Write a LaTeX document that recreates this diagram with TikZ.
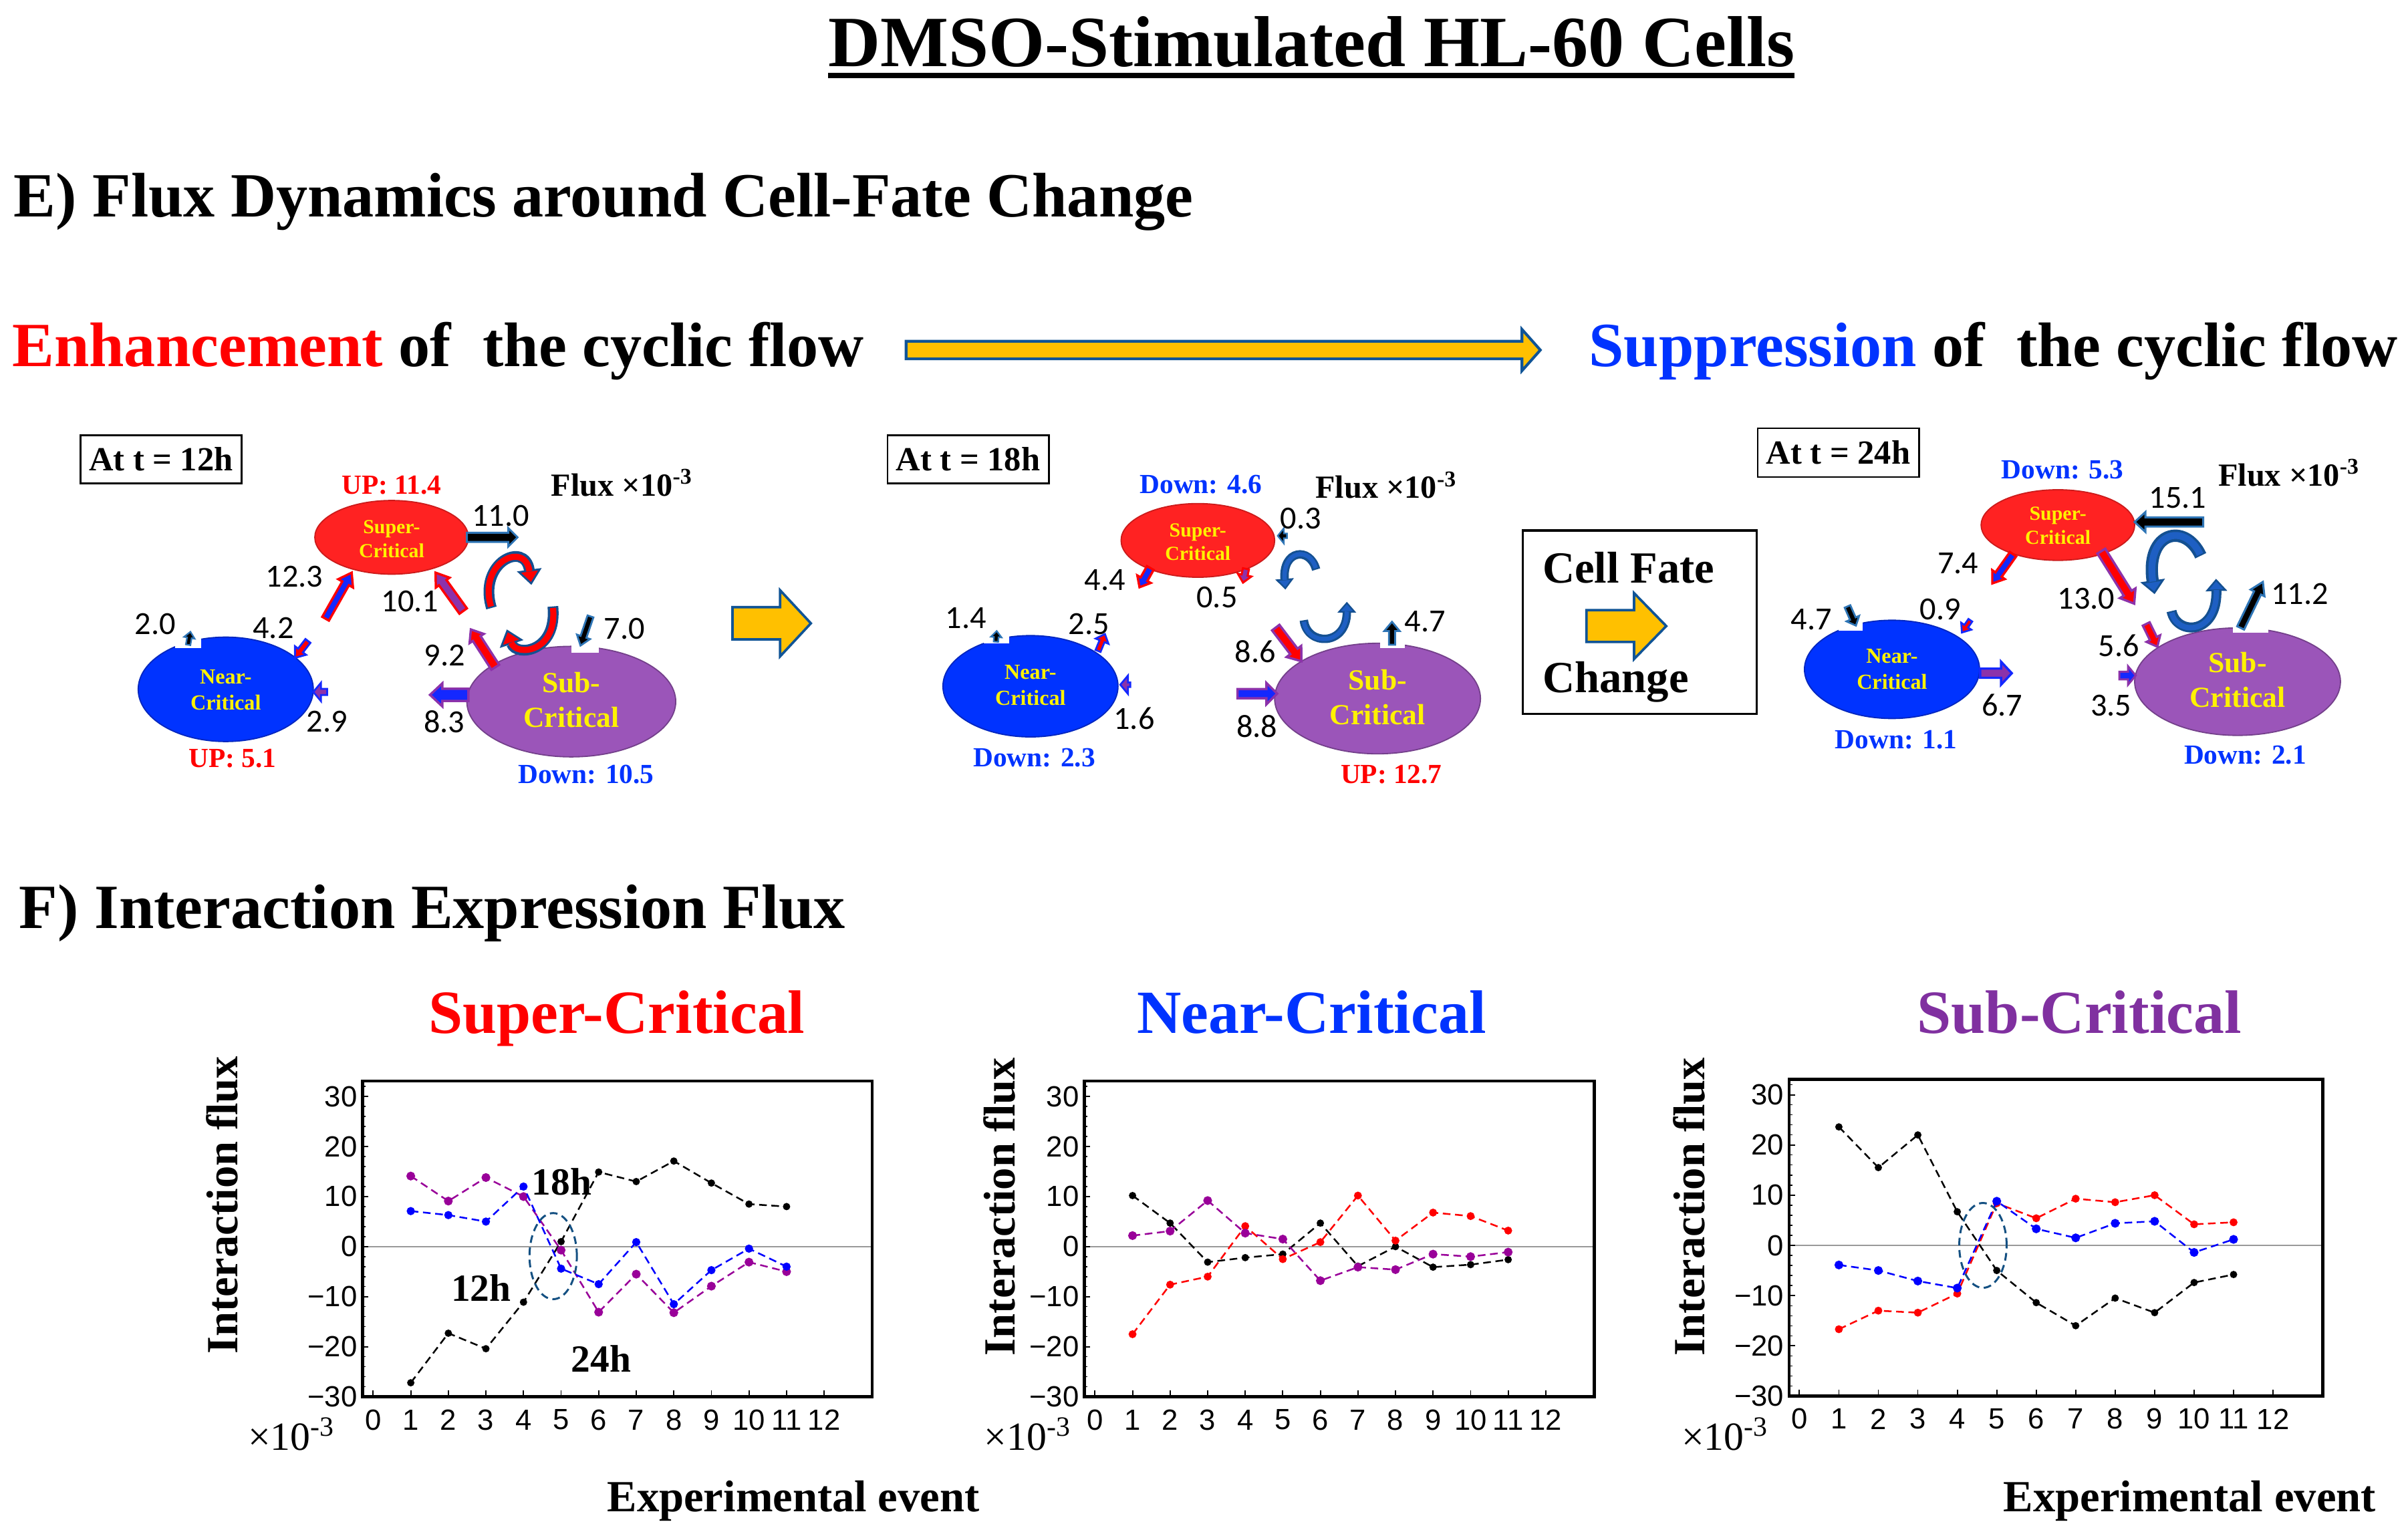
\documentclass[tikz,border=0pt]{standalone}
\usepackage{fontspec}
\setmainfont{Liberation Serif}
\newfontfamily\calib{Carlito}
\newfontfamily\arialf{Liberation Sans}
\usetikzlibrary{shapes.geometric,arrows.meta}
\definecolor{supred}{RGB}{255,34,34}
\definecolor{nearblue}{RGB}{0,51,255}
\definecolor{subpurp}{RGB}{155,85,185}
\definecolor{ablue}{RGB}{46,117,182}
\definecolor{nblue}{RGB}{20,40,255}
\definecolor{purp}{RGB}{140,50,170}
\definecolor{yel}{RGB}{255,192,0}
\definecolor{yout}{RGB}{16,84,150}
\definecolor{txtblue}{RGB}{0,51,255}
\definecolor{titpurp}{RGB}{128,48,160}
\definecolor{cblue}{RGB}{30,95,195}
\definecolor{cout}{RGB}{20,80,145}
\definecolor{ellteal}{RGB}{20,80,130}
\definecolor{mag}{RGB}{153,0,153}
\definecolor{pblue}{RGB}{0,0,255}
\newcommand\blkarrow[9]{%
 \pgfmathsetmacro\bkdx{(#3)-(#1)}%
 \pgfmathsetmacro\bkdy{(#4)-(#2)}%
 \pgfmathsetmacro\bkang{atan2(-(\bkdy),\bkdx)}%
 \pgfmathsetmacro\bklen{veclen(\bkdx,\bkdy)}%
 \pgfmathsetmacro\bksh{(#5)/2}%
 \pgfmathsetmacro\bkhh{(#6)/2}%
 \pgfmathsetmacro\bkbase{\bklen-(#7)}%
 \begin{scope}[shift={(#1,#2)},rotate=\bkang]
 \filldraw[fill=#8,#9,line join=miter] (0,\bksh) -- (\bkbase,\bksh) -- (\bkbase,\bkhh) -- (\bklen,0) -- (\bkbase,-\bkhh) -- (\bkbase,-\bksh) -- (0,-\bksh) -- cycle;
 \end{scope}}
\newcommand\chartaxes[2]{%
 \draw[line width=2pt] (#1,-30) rectangle (#2,33.1);
 \foreach \k in {0,...,12} \draw[line width=0.8pt] (\k,-30) -- ++(0pt,4pt);
 \foreach \v in {-30,-20,...,30} \draw[line width=0.8pt] (#1,\v) -- ++(4pt,0pt);
 \foreach \v in {-28,-26,...,32} \draw[line width=0.6pt] (#1,\v) -- ++(2pt,0pt);
 \foreach \k in {0,...,12} \node[ticklab,yshift=-15pt] at (\k,-30) {\k};
 \foreach \v/\l in {-30/−30,-20/−20,-10/−10,0/0,10/10,20/20,30/30} \node[ticklab,anchor=east,xshift=-3.4pt] at (#1,\v) {\l};
}
\begin{document}
\begin{tikzpicture}[x=1pt,y=-1pt,
 txt/.style={inner sep=0pt,outer sep=0pt},
 numl/.style={txt,font=\calib\fontsize{21}{21}\selectfont},
 updn/.style={txt,anchor=base,font=\fontsize{18}{18}\selectfont\bfseries},
 ell/.style={ellipse,inner sep=0pt,line width=0.8pt},
 elabs/.style={txt,align=center,text=yellow,font=\fontsize{13}{15.5}\selectfont\bfseries},
 elabn/.style={txt,align=center,text=yellow,font=\fontsize{14}{17}\selectfont\bfseries},
 elabb/.style={txt,align=center,text=yellow,font=\fontsize{19}{22.6}\selectfont\bfseries},
 tbox/.style={draw,line width=1.2pt,inner sep=0pt,minimum width=105pt,minimum height=31.3pt,font=\fontsize{22}{22}\selectfont\bfseries},
 fluxl/.style={txt,anchor=base west,font=\fontsize{21}{21}\selectfont\bfseries},
 ticklab/.style={txt,font=\arialf\fontsize{19}{19}\selectfont},
 ser/.style={dash pattern=on 5pt off 3pt,line width=1.1pt,mark=*,mark size=#1,mark options={solid}},
 head/.style={txt,anchor=base west,font=\fontsize{41}{45}\selectfont\bfseries},
 ctitle/.style={txt,anchor=base,font=\fontsize{40}{44}\selectfont\bfseries},
 ylab/.style={txt,rotate=90,font=\fontsize{29}{29}\selectfont\bfseries},
 xlab/.style={txt,anchor=base west,font=\fontsize{29}{29}\selectfont\bfseries},
 mult/.style={txt,anchor=base west,font=\fontsize{26}{26}\selectfont},
 hlab/.style={txt,font=\fontsize{25}{25}\selectfont\bfseries},
 whitenotch/.style={fill=white,draw=none}]
\useasboundingbox[fill=white] (0,0) rectangle (1568,999);

% ---------- headings ----------
\node[txt,anchor=base,font=\fontsize{47}{50}\selectfont\bfseries] (title) at (854,43.5) {DMSO-Stimulated HL-60 Cells};
\draw[line width=3.5pt] ([yshift=-5.5pt]title.base west) -- ([yshift=-5.5pt]title.base east);
\node[head] (hE) at (9,141.4) {E) Flux Dynamics around Cell-Fate Change};
\node[head] (enh) at (8,238.6) {\textcolor{red}{Enhancement} of\ \ the cyclic flow};
\node[head] (supp) at (1034.7,238.6) {\textcolor{txtblue}{Suppression} of\ \ the cyclic flow};
\blkarrow{590}{228}{1003}{228}{11.5}{27}{12}{yel}{draw=yout,line width=1.8pt}
\node[head] (hF) at (12.6,604.5) {F) Interaction Expression Flux};

% ---------- panel 12h ----------
\node[tbox] (box12) at (104.8,299.2) {At t = 12h};
\node[fluxl] (fx12) at (359,323) {Flux ×10\textsuperscript{-3}};
\node[ell,fill=supred,draw=supred!80!black,minimum width=100pt,minimum height=48pt] (sup12) at (255,350) {};
\node[ell,fill=nearblue,draw=nearblue!75!black,minimum width=114pt,minimum height=68pt] (near12) at (147,449) {};
\node[ell,fill=subpurp,draw=subpurp!75!black,minimum width=136pt,minimum height=72pt] (sub12) at (372,457) {};
\fill[whitenotch] (114,414) rectangle (131,422);
\fill[whitenotch] (372,419) rectangle (390,425);
\node[elabs] (sup12t) at (255,351) {Super-\\Critical};
\node[elabn] (near12t) at (147,449.5) {Near-\\Critical};
\node[elabb] (sub12t) at (372,456) {Sub-\\Critical};
\node[updn,text=red] (up12a) at (255,322) {UP: 11.4};
\node[updn,text=red] (up12b) at (151.4,500) {UP: 5.1};
\node[updn,text=txtblue] (dn12c) at (381.6,510.4) {Down: 10.5};
\blkarrow{304}{350}{337}{350}{6}{12}{6}{black}{draw=ablue,line width=1.3pt}
\blkarrow{212}{403}{229}{373}{5}{11}{8}{nblue}{draw=red,line width=1.5pt}
\blkarrow{301.6}{398}{283.6}{373}{6}{11}{8}{purp}{draw=red,line width=1.5pt}
\blkarrow{122.5}{420}{124}{411.5}{3}{7}{4}{black}{draw=ablue,line width=1pt}
\blkarrow{200.5}{417.5}{192}{428.5}{4}{9}{6}{red}{draw=nblue,line width=1.3pt}
\blkarrow{213}{450.7}{204}{450.7}{4}{12}{5}{purp}{draw=nblue,line width=1.2pt}
\blkarrow{384.5}{401.5}{378}{420.5}{4}{9}{6}{black}{draw=ablue,line width=1.2pt}
\blkarrow{322.5}{434.6}{306.6}{410}{6}{11}{7}{red}{draw=purp,line width=1.5pt}
\blkarrow{305}{452.6}{280}{452.6}{8}{15}{8}{nblue}{draw=purp,line width=1.5pt}
\draw[draw=cout,line width=7pt,-{Triangle[length=10pt,width=16pt,fill=red,line width=1.2pt]}] (320,396) .. controls (311,366) and (342,352) .. (346,381);
\draw[draw=red,line width=4pt,shorten >=9pt,shorten <=1pt] (320,396) .. controls (311,366) and (342,352) .. (346,381);
\draw[draw=cout,line width=7pt,-{Triangle[length=10pt,width=16pt,fill=red,line width=1.2pt]}] (360,395) .. controls (363,425) and (336,428) .. (330,410);
\draw[draw=red,line width=4pt,shorten >=9pt,shorten <=1pt] (360,395) .. controls (363,425) and (336,428) .. (330,410);
\node[numl] (v12a) at (326,336) {11.0};
\node[numl] (v12b) at (191.7,375.5) {12.3};
\node[numl] (v12c) at (267,391.8) {10.1};
\node[numl] (v12d) at (101,406.5) {2.0};
\node[numl] (v12e) at (178,409) {4.2};
\node[numl] (v12f) at (289.5,427) {9.2};
\node[numl] (v12g) at (406.7,409.5) {7.0};
\node[numl] (v12h) at (213,470) {2.9};
\node[numl] (v12i) at (289.3,470) {8.3};

% middle arrow
\blkarrow{477}{406}{528}{406}{21}{43}{20}{yel}{draw=yout,line width=1.6pt}

% ---------- panel 18h ----------
\node[tbox] (box18) at (630.4,299.2) {At t = 18h};
\node[fluxl] (fx18) at (856.6,324.5) {Flux ×10\textsuperscript{-3}};
\node[ell,fill=supred,draw=supred!80!black,minimum width=100pt,minimum height=48pt] (sup18) at (780,352) {};
\node[ell,fill=nearblue,draw=nearblue!75!black,minimum width=114pt,minimum height=66pt] (near18) at (671,447) {};
\node[ell,fill=subpurp,draw=subpurp!75!black,minimum width=134pt,minimum height=72pt] (sub18) at (897,455) {};
\fill[whitenotch] (640.6,413) rectangle (657,419);
\fill[whitenotch] (898.6,418) rectangle (914.6,422);
\node[elabs] (sup18t) at (780,353) {Super-\\Critical};
\node[elabn] (near18t) at (671,446.5) {Near-\\Critical};
\node[elabb] (sub18t) at (897,454) {Sub-\\Critical};
\node[updn,text=txtblue] (dn18a) at (782,321.3) {Down: 4.6};
\node[updn,text=txtblue] (dn18b) at (673.5,499.4) {Down: 2.3};
\node[updn,text=red] (up18c) at (906,510.4) {UP: 12.7};
\blkarrow{838}{349}{832}{349}{3}{10}{4}{black}{draw=ablue,line width=1pt}
\blkarrow{749}{370}{742}{382.5}{5}{10}{6}{nblue}{draw=red,line width=1.5pt}
\blkarrow{811.3}{370.5}{809.4}{379.5}{4}{9}{5}{purp}{draw=red,line width=1.3pt}
\blkarrow{648.5}{418}{649}{411}{3}{7}{4}{black}{draw=ablue,line width=1pt}
\blkarrow{715}{424}{719.5}{413}{3.5}{9}{5}{red}{draw=nblue,line width=1.2pt}
\blkarrow{736}{446}{729.5}{446}{3}{12}{5}{purp}{draw=nblue,line width=1.2pt}
\blkarrow{830.7}{408.8}{847.4}{430.7}{6}{12}{8}{red}{draw=purp,line width=1.5pt}
\blkarrow{805.8}{451.8}{831.6}{451.8}{6}{14}{7}{nblue}{draw=purp,line width=1.5pt}
\blkarrow{906.4}{420}{906.4}{405}{4}{10}{6}{black}{draw=ablue,line width=1.2pt}
\draw[draw=cout,line width=5.5pt,-{Triangle[length=7pt,width=12pt,fill=cblue,line width=1pt]}] (857,371) .. controls (853,356) and (835,358) .. (837,384);
\draw[draw=cblue,line width=2.8pt,shorten >=6.3pt,shorten <=1pt] (857,371) .. controls (853,356) and (835,358) .. (837,384);
\draw[draw=cout,line width=5.5pt,-{Triangle[length=7pt,width=12pt,fill=cblue,line width=1pt]}] (849,404) .. controls (851,421) and (877,421) .. (877,392);
\draw[draw=cblue,line width=2.8pt,shorten >=6.3pt,shorten <=1pt] (849,404) .. controls (851,421) and (877,421) .. (877,392);
\node[numl] (v18a) at (847,337.6) {0.3};
\node[numl] (v18b) at (719.5,378) {4.4};
\node[numl] (v18c) at (792.5,389) {0.5};
\node[numl] (v18d) at (629,402.8) {1.4};
\node[numl] (v18e) at (709,406.6) {2.5};
\node[numl] (v18f) at (928,405) {4.7};
\node[numl] (v18g) at (817.5,424.5) {8.6};
\node[numl] (v18h) at (738.5,468) {1.6};
\node[numl] (v18i) at (818.5,473) {8.8};

% ---------- cell fate box ----------
\node[draw,line width=1.5pt,inner sep=0pt,minimum width=152.4pt,minimum height=119.5pt] (cfbox) at (1067.8,405.3) {};
\node[txt,anchor=base west,font=\fontsize{29}{29}\selectfont\bfseries] (cf1) at (1004.5,379.7) {Cell Fate};
\node[txt,anchor=base west,font=\fontsize{29}{29}\selectfont\bfseries] (cf2) at (1004.5,451) {Change};
\blkarrow{1033}{407.8}{1085}{407.8}{20.7}{43}{21}{yel}{draw=yout,line width=1.6pt}

% ---------- panel 24h ----------
\node[tbox,minimum height=31.8pt] (box24) at (1197,294.8) {At t = 24h};
\node[fluxl] (fx24) at (1444.5,316.4) {Flux ×10\textsuperscript{-3}};
\node[ell,fill=supred,draw=supred!80!black,minimum width=100pt,minimum height=46pt] (sup24) at (1340,342) {};
\node[ell,fill=nearblue,draw=nearblue!75!black,minimum width=114pt,minimum height=64pt] (near24) at (1232,436) {};
\node[ell,fill=subpurp,draw=subpurp!75!black,minimum width=134pt,minimum height=70pt] (sub24) at (1457,444) {};
\fill[whitenotch] (1197,403) rectangle (1213,411);
\fill[whitenotch] (1454,408) rectangle (1477,412);
\node[elabs] (sup24t) at (1340,342.4) {Super-\\Critical};
\node[elabn] (near24t) at (1232,436) {Near-\\Critical};
\node[elabb] (sub24t) at (1457,443) {Sub-\\Critical};
\node[updn,text=txtblue] (dn24a) at (1343,312) {Down: 5.3};
\node[updn,text=txtblue] (dn24b) at (1234.6,487.7) {Down: 1.1};
\node[updn,text=txtblue] (dn24c) at (1462,497.8) {Down: 2.1};
\blkarrow{1434.6}{340}{1390}{340}{6}{13}{7}{black}{draw=ablue,line width=1.3pt}
\blkarrow{1310.8}{361}{1297.3}{380}{5}{10}{7}{nblue}{draw=red,line width=1.5pt}
\blkarrow{1368.3}{359}{1389.7}{393.2}{6}{12}{8}{red}{draw=purp,line width=1.5pt}
\blkarrow{1203}{395}{1208.5}{407.5}{4}{9}{5}{black}{draw=ablue,line width=1.2pt}
\blkarrow{1283}{404}{1277.5}{412}{3}{8}{5}{red}{draw=nblue,line width=1.2pt}
\blkarrow{1459}{409}{1473.5}{379}{5}{10}{8}{black}{draw=ablue,line width=1.3pt}
\blkarrow{1397.5}{406.4}{1404.8}{421.3}{5}{10}{6}{red}{draw=purp,line width=1.4pt}
\blkarrow{1289.4}{438.5}{1310}{438.5}{6}{15}{7}{purp}{draw=nblue,line width=1.5pt}
\blkarrow{1380}{440}{1390.7}{440}{5}{12}{5}{nblue}{draw=purp,line width=1.3pt}
\draw[draw=cout,line width=8pt,-{Triangle[length=9pt,width=16pt,fill=cblue,line width=1.2pt]}] (1433,362) .. controls (1423,340) and (1397,346) .. (1403,387);
\draw[draw=cblue,line width=4.5pt,shorten >=8.3pt,shorten <=1pt] (1433,362) .. controls (1423,340) and (1397,346) .. (1403,387);
\draw[draw=cout,line width=6.5pt,-{Triangle[length=8pt,width=14pt,fill=cblue,line width=1.1pt]}] (1414,398) .. controls (1417,414) and (1444,414) .. (1443,377);
\draw[draw=cblue,line width=3.5pt,shorten >=7.3pt,shorten <=1pt] (1414,398) .. controls (1417,414) and (1444,414) .. (1443,377);
\node[numl] (v24a) at (1418,324.3) {15.1};
\node[numl] (v24b) at (1275,367) {7.4};
\node[numl] (v24c) at (1358.5,390) {13.0};
\node[numl] (v24d) at (1179.5,403.5) {4.7};
\node[numl] (v24e) at (1263.4,397) {0.9};
\node[numl] (v24f) at (1497.5,386.7) {11.2};
\node[numl] (v24g) at (1379.7,420.5) {5.6};
\node[numl] (v24h) at (1303.7,459.4) {6.7};
\node[numl] (v24i) at (1374.7,459.4) {3.5};

% ---------- charts ----------
\node[ctitle,text=red] (ct1) at (401.6,673) {Super-Critical};
\node[ctitle,text=txtblue] (ct2) at (854,673) {Near-Critical};
\node[ctitle,text=titpurp] (ct3) at (1354,673) {Sub-Critical};
\node[ylab] (yl1) at (144.5,785) {Interaction flux};
\node[ylab] (yl2) at (651,786) {Interaction flux};
\node[ylab] (yl3) at (1100,786) {Interaction flux};
\node[mult] (m1) at (161.5,944.4) {×10\textsuperscript{-3}};
\node[mult] (m2) at (641,944.4) {×10\textsuperscript{-3}};
\node[mult] (m3) at (1095,944.4) {×10\textsuperscript{-3}};
\node[xlab] (xl1) at (395.4,984.8) {Experimental event};
\node[xlab] (xl3) at (1304.6,984.8) {Experimental event};

% chart 1
\begin{scope}[shift={(243,812)},x={(24.47pt,0pt)},y={(0pt,3.26pt)}]
\draw[gray!80,line width=0.7pt] (-0.286,0) -- (13.28,0);
\draw[ser=1.8pt,black] plot coordinates {(1,-27.2) (2,-17.3) (3,-20.4) (4,-11.1) (5,1.0) (6,14.9) (7,13.0) (8,17.1) (9,12.7) (10,8.5) (11,8.0)};
\draw[ser=2.3pt,mag] plot coordinates {(1,14.1) (2,9.1) (3,13.8) (4,10.0) (5,-0.7) (6,-13.1) (7,-5.5) (8,-13.2) (9,-7.9) (10,-3.1) (11,-5.0)};
\draw[ser=2.1pt,pblue] plot coordinates {(1,7.1) (2,6.3) (3,5.0) (4,12.0) (5,-4.4) (6,-7.5) (7,0.9) (8,-11.5) (9,-4.7) (10,-0.4) (11,-4.0)};
\draw[ellteal,line width=1.3pt,dash pattern=on 5pt off 3pt] (4.79,-1.9) ellipse [x radius=0.63, y radius=8.6];
\node[hlab] (h18) at (5.02,12.9) {18h};
\node[hlab] (h12) at (2.87,-8.2) {12h};
\node[hlab] (h24) at (6.07,-22.4) {24h};
\chartaxes{-0.286}{13.28}
\end{scope}

% chart 2
\begin{scope}[shift={(713,812)},x={(24.46pt,0pt)},y={(0pt,3.26pt)}]
\draw[gray!80,line width=0.7pt] (-0.286,0) -- (13.29,0);
\draw[ser=1.8pt,black] plot coordinates {(1,10.2) (2,4.7) (3,-3.1) (4,-2.2) (5,-1.5) (6,4.7) (7,-3.9) (8,0) (9,-4.1) (10,-3.6) (11,-2.6)};
\draw[ser=2pt,red] plot coordinates {(1,-17.5) (2,-7.6) (3,-6.0) (4,4.1) (5,-2.5) (6,0.9) (7,10.2) (8,1.2) (9,6.8) (10,6.1) (11,3.2)};
\draw[ser=2.3pt,mag] plot coordinates {(1,2.2) (2,3.1) (3,9.2) (4,2.7) (5,1.5) (6,-6.8) (7,-4.1) (8,-4.6) (9,-1.5) (10,-2.0) (11,-1.1)};
\chartaxes{-0.286}{13.29}
\end{scope}

% chart 3
\begin{scope}[shift={(1171.7,811.2)},x={(25.7pt,0pt)},y={(0pt,3.27pt)}]
\draw[gray!80,line width=0.7pt] (-0.26,0) -- (13.26,0);
\draw[ser=1.8pt,black] plot coordinates {(1,23.6) (2,15.5) (3,22.0) (4,6.7) (5,-5.0) (6,-11.4) (7,-16.0) (8,-10.5) (9,-13.4) (10,-7.4) (11,-5.8)};
\draw[ser=2pt,red] plot coordinates {(1,-16.7) (2,-13.0) (3,-13.4) (4,-9.6) (5,8.4) (6,5.4) (7,9.3) (8,8.6) (9,10.0) (10,4.2) (11,4.6)};
\draw[ser=2.3pt,pblue] plot coordinates {(1,-3.9) (2,-5.0) (3,-7.1) (4,-8.5) (5,8.8) (6,3.3) (7,1.5) (8,4.4) (9,4.8) (10,-1.4) (11,1.2)};
\draw[ellteal,line width=1.3pt,dash pattern=on 5pt off 3pt] (4.65,0) ellipse [x radius=0.6, y radius=8.45];
\chartaxes{-0.26}{13.26}
\end{scope}
\end{tikzpicture}
\end{document}
